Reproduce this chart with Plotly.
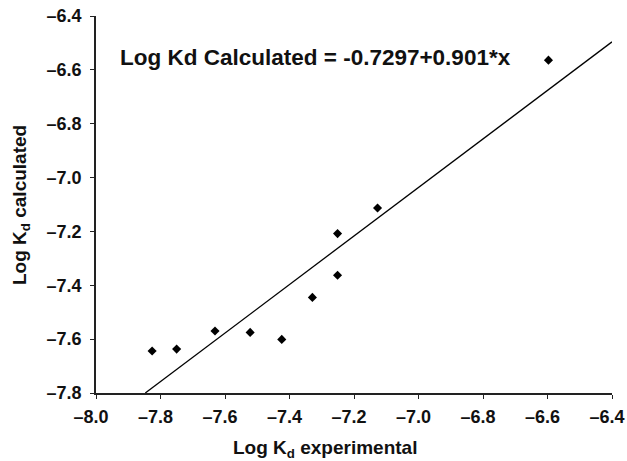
import plotly.graph_objects as go

# Data
log_kd_experimental = [-7.826, -7.750, -7.631, -7.522, -7.424, -7.329, -7.251, -7.251, -7.127, -6.597]
log_kd_calculated = [-7.644, -7.637, -7.570, -7.575, -7.601, -7.445, -7.208, -7.363, -7.113, -6.564]

intercept = -0.7297
slope = 0.901

x_ticks = [-8.0, -7.8, -7.6, -7.4, -7.2, -7.0, -6.8, -6.6, -6.4]
x_tick_labels = ["–8.0", "–7.8", "–7.6", "–7.4", "–7.2", "–7.0", "–6.8", "–6.6", "–6.4"]
y_ticks = [-7.8, -7.6, -7.4, -7.2, -7.0, -6.8, -6.6, -6.4]
y_tick_labels = ["–7.8", "–7.6", "–7.4", "–7.2", "–7.0", "–6.8", "–6.6", "–6.4"]

x_min, x_max = -8.0, -6.4
y_min, y_max = -7.8, -6.4

# regression line clipped to plot area
line_x0 = (y_min - intercept) / slope
line_x = [line_x0, x_max]
line_y = [intercept + slope * v for v in line_x]

font_family = "Liberation Sans, Arial, sans-serif"

fig = go.Figure()
fig.add_trace(go.Scatter(
    x=line_x, y=line_y, mode="lines",
    line=dict(color="black", width=1.3),
    showlegend=False, hoverinfo="skip",
))
fig.add_trace(go.Scatter(
    x=log_kd_experimental, y=log_kd_calculated, mode="markers",
    marker=dict(symbol="diamond", size=7, color="black"),
    showlegend=False,
))

axis_common = dict(
    showgrid=False, zeroline=False, automargin=False,
    showline=True, linecolor="#222", linewidth=1.5,
    ticks="outside", ticklen=4, tickwidth=1.3, tickcolor="#222",
    ticklabeloverflow="allow",
    tickfont=dict(family=font_family, size=18, color="#111", weight="bold"),
)

fig.update_layout(
    width=627, height=461,
    margin=dict(l=96, r=15, t=16, b=68, autoexpand=False),
    paper_bgcolor="white", plot_bgcolor="white",
    xaxis=dict(range=[x_min, x_max], tickmode="array", tickvals=x_ticks,
               ticktext=x_tick_labels, ticklabelstandoff=3, ticklabelshift=-5,
               **axis_common),
    yaxis=dict(range=[y_min, y_max], tickmode="array", tickvals=y_ticks,
               ticktext=y_tick_labels, ticklabelstandoff=5, **axis_common),
    annotations=[
        dict(text="<b>Log Kd Calculated = -0.7297+0.901*x</b>",
             xref="paper", yref="paper", x=0.042, y=0.891,
             xanchor="left", yanchor="middle", showarrow=False,
             font=dict(family=font_family, size=22.5, color="#111")),
        dict(text="<b>Log K<sub>d</sub> experimental</b>",
             xref="paper", yref="paper", x=(325 - 96) / 516, y=-0.112,
             xanchor="center", yanchor="top", showarrow=False,
             font=dict(family=font_family, size=19, color="#111")),
        dict(text="<b>Log K<sub>d</sub> calculated</b>",
             xref="paper", yref="paper", x=(21 - 96) / 516, y=(393 - 205) / 377,
             xanchor="center", yanchor="middle", showarrow=False, textangle=-90,
             font=dict(family=font_family, size=19, color="#111")),
    ],
)

fig.write_html(
    "out.html",
    config={"displayModeBar": False},
    post_script="document.body.style.margin='0';document.body.style.padding='0';",
)
